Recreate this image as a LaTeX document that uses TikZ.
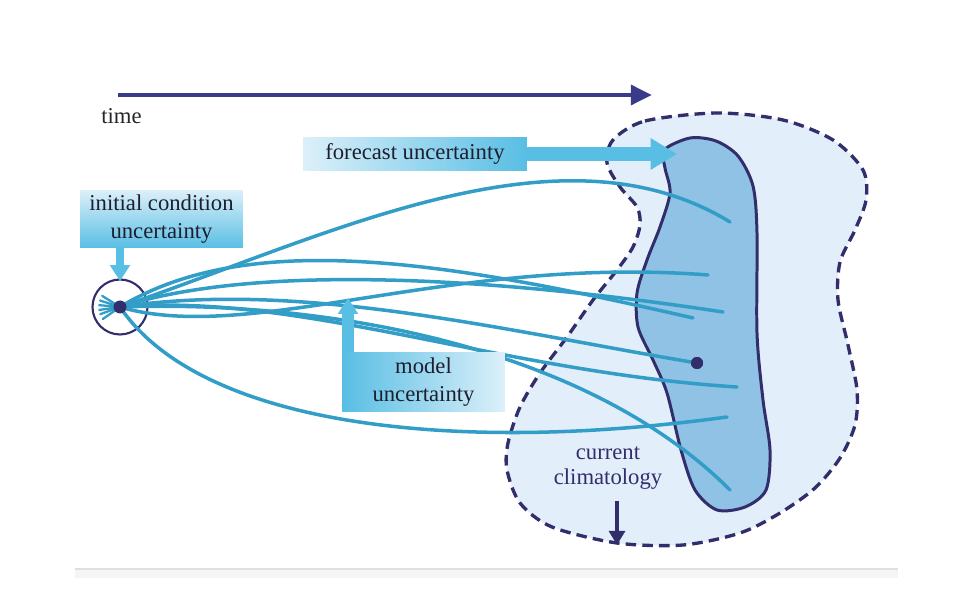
\documentclass[tikz,border=0pt]{standalone}
\usepackage{fontspec}
\setmainfont{Liberation Serif}
\usetikzlibrary{arrows.meta}
\definecolor{ClimNavy}{RGB}{50,46,108}
\definecolor{TimeNavy}{RGB}{58,58,138}
\definecolor{TrajCyan}{RGB}{50,158,200}
\definecolor{BoxCyan}{RGB}{88,190,228}
\definecolor{BoxLight}{RGB}{220,240,250}
\definecolor{ClimFill}{RGB}{226,238,249}
\definecolor{DistFill}{RGB}{143,194,228}
\definecolor{InkGray}{RGB}{30,30,46}
\tikzset{>=Triangle}
\tikzset{labelbox/.style={inner sep=0pt,align=center,text=InkGray,font=\fontsize{12.9}{16}\selectfont}}
\tikzset{traj/.style={draw=TrajCyan,line width=2pt,line cap=round}}
\tikzset{dotnode/.style={circle,fill=ClimNavy,inner sep=0pt,minimum size=0.24cm}}
\tikzset{fatarrow/.style={draw=BoxCyan,line cap=butt}}

\begin{document}
\begin{tikzpicture}[x=0.02cm,y=-0.02cm]
        \useasboundingbox (0,0) rectangle (980,614);
        % screenshot strip
        \fill[gray!8] (75,569) rectangle (898,578);
        \draw[gray!25,line width=0.6pt] (75,569) -- (898,569);
        % current climatology
        \draw[ClimNavy,fill=ClimFill,line width=1.9pt,dash pattern=on 6pt off 3.5pt]
            plot[smooth cycle] coordinates {(613,140) (645,121) (717,113) (783,120) (833,140) (863,170)
            (866,200) (855,230) (840,262) (838,300) (848,345) (857,390) (855,425) (840,458) (815,488)
            (780,513) (740,533) (683,545) (617,543) (552,527) (520,503) (507,470) (508,443) (520,407)
            (540,373) (567,337) (593,300) (617,270) (633,247) (640,225) (637,207) (620,187) (607,163)};
        % forecast distribution
        \draw[ClimNavy,fill=DistFill,line width=1.7pt]
            plot[smooth cycle] coordinates {(664,150) (690,138) (716,141) (738,156) (753,186) (757,233)
            (757,333) (763,400) (770,450) (766,490) (745,507) (717,510) (695,490) (681,450) (667,393)
            (653,360) (638,327) (637,293) (647,260) (660,227) (670,193) (665,168)};
        % time axis
        \coordinate (tstart) at (118,95);
        \coordinate (tend) at (652,95);
        \draw[TimeNavy,line width=2.8pt,-{Triangle[length=12pt,width=11pt]}] (tstart) -- (tend);
        \node[labelbox,anchor=west,text=black!85] (timelbl) at (101,116) {time};
        % ensemble
        \node[circle,draw=ClimNavy,line width=1.2pt,minimum size=1.1cm] (origin) at (120,307) {};
        \coordinate (e1) at (730,222);
        \coordinate (e2) at (708,275);
        \coordinate (e3) at (723,312);
        \coordinate (e4) at (693,318);
        \coordinate (e6) at (737,387);
        \coordinate (e7) at (727,417);
        \coordinate (e8) at (730,490);
        \node[dotnode] (member) at (697,363) {};
        \foreach \a in {145,160,172,185,198,212} \draw[traj,line width=1.3pt] (origin.center) -- ++(\a:21);
        \draw[traj] (origin.center) .. controls (330,235) and (560,118) .. (e1);
        \draw[traj] (origin.center) .. controls (250,345) and (450,255) .. (e2);
        \draw[traj] (origin.center) .. controls (250,265) and (480,275) .. (e3);
        \draw[traj] (origin.center) .. controls (250,228) and (450,262) .. (e4);
        \draw[traj] (origin.center) .. controls (300,280) and (500,330) .. (member.center);
        \draw[traj] (origin.center) .. controls (300,292) and (500,372) .. (e6);
        \draw[traj] (origin.center) .. controls (200,425) and (450,455) .. (e7);
        \draw[traj] (origin.center) .. controls (310,300) and (580,340) .. (e8);
        \node[dotnode,minimum size=0.26cm] (seed) at (origin.center) {};
        \node[dotnode] at (member) {};
        % uncertainty labels
        \node[labelbox,minimum width=3.26cm,minimum height=1.16cm,top color=BoxLight,bottom color=BoxCyan] (initial) at (161.5,219) {initial condition\\uncertainty};
        \coordinate (initialtip) at (120,281);
        \draw[fatarrow,line width=4.5pt,-{Triangle[length=9pt,width=11pt]}] (initial.south -| initialtip) -- (initialtip);
        \node[labelbox,minimum width=4.48cm,minimum height=0.66cm,left color=BoxLight,right color=BoxCyan] (forecast) at (415,154) {forecast uncertainty};
        \coordinate (fctip) at (677,154);
        \draw[fatarrow,line width=7.5pt,-{Triangle[length=15pt,width=17pt]}] (forecast.east) -- (fctip);
        \node[labelbox,minimum width=3.26cm,minimum height=1.2cm,left color=BoxCyan,right color=BoxLight] (model) at (423.5,382) {model\\uncertainty};
        \coordinate (modeltip) at (348,298);
        \draw[fatarrow,line width=6.5pt,-{Triangle[length=9pt,width=11pt]}] (model.north west -| modeltip) -- (modeltip);
        % climatology label
        \node[labelbox,text=ClimNavy,font=\fontsize{12.9}{14.5}\selectfont] (climlbl) at (608,468) {current\\climatology};
        \coordinate (climtail) at (617,501);
        \coordinate (climtip) at (617,545);
        \draw[ClimNavy,line width=2.3pt,-{Triangle[length=8pt,width=9pt]}] (climtail) -- (climtip);
    \end{tikzpicture}
\end{document}
